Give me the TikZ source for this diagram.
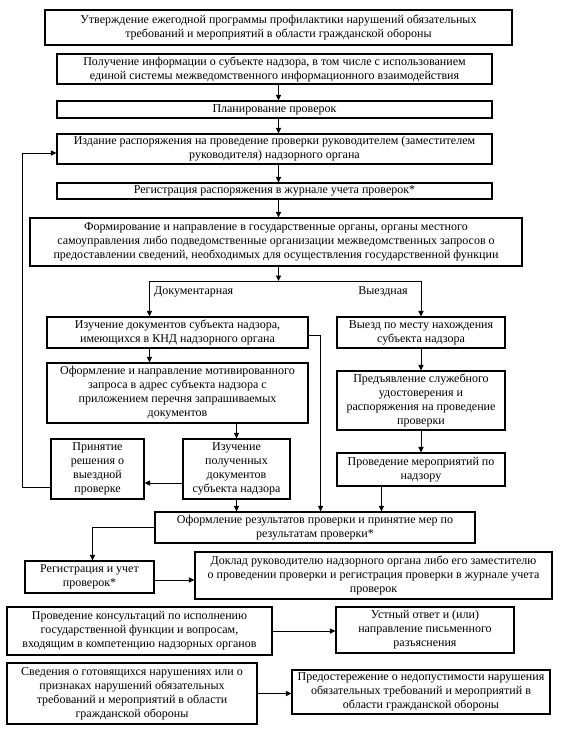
\documentclass[tikz,border=0pt]{standalone}
\usepackage{fontspec}
\setmainfont{Liberation Serif}
\usetikzlibrary{arrows.meta,calc}
\tikzset{
  box/.style={draw, line width=1.1pt, rectangle, align=center, inner sep=1pt,
    font=\fontsize{12}{14}\selectfont},
  arr/.style={line width=1pt, -{Triangle[length=5.5pt,width=5pt]}},
  lbl/.style={font=\fontsize{12}{14}\selectfont, inner sep=0pt}
}
\newcommand\bx[6]{\node[box, minimum width={#4pt-#2pt}, minimum height={#5pt-#3pt}] (#1) at ({(#2+#4)/2},{(#3+#5)/2}) {#6};}
\begin{document}
\begin{tikzpicture}[x=1pt,y=-1pt]
\useasboundingbox (0,0) rectangle (577,729);
\bx{b1}{45}{10}{512}{45}{Утверждение ежегодной программы профилактики нарушений обязательных\\требований и мероприятий в области гражданской обороны}
\bx{b2}{57}{54}{492}{84}{Получение информации о субъекте надзора, в том числе с использованием\\единой системы межведомственного информационного взаимодействия}
\bx{b3}{57}{101}{492}{118}{Планирование проверок}
\bx{b4}{57}{134}{492}{164}{Издание распоряжения на проведение проверки руководителем (заместителем\\руководителя) надзорного органа}
\bx{b5}{57}{183}{492}{199}{Регистрация распоряжения в журнале учета проверок*}
\bx{b6}{30}{218}{522}{266}{Формирование и направление в государственные органы, органы местного\\самоуправления либо подведомственные организации межведомственных запросов о\\предоставлении сведений, необходимых для осуществления государственной функции}
\bx{b7}{47}{317}{308}{348}{Изучение документов субъекта надзора,\\имеющихся в КНД надзорного органа}
\bx{b8}{337}{317}{505}{348}{Выезд по месту нахождения\\субъекта надзора}
\bx{b9}{47}{363}{308}{423}{Оформление и направление мотивированного\\запроса в адрес субъекта надзора с\\приложением перечня запрашиваемых\\документов}
\bx{b10}{337}{371}{505}{430}{Предъявление служебного\\удостоверения и\\распоряжения на проведение\\проверки}
\bx{b11}{51}{439}{144}{499}{Принятие\\решения о\\выездной\\проверке}
\bx{b12}{183}{439}{290}{499}{Изучение\\полученных\\документов\\субъекта надзора}
\bx{b13}{337}{453}{505}{486}{Проведение мероприятий по\\надзору}
\bx{b14}{155}{512}{475}{543}{Оформление результатов проверки и принятие мер по\\результатам проверки*}
\bx{b15}{25}{561}{154}{593}{Регистрация и учет\\проверок*}
\bx{b16}{195}{552}{552}{599}{Доклад руководителю надзорного органа либо его заместителю\\о проведении проверки и регистрация проверки в журнале учета\\проверок}
\bx{b17}{7}{607}{272}{655}{Проведение консультаций по исполнению\\государственной функции и вопросам,\\входящим в компетенцию надзорных органов}
\bx{b18}{336}{607}{514}{653}{Устный ответ и (или)\\направление письменного\\разъяснения}
\bx{b19}{7}{663}{257}{724}{Сведения о готовящихся нарушениях или о\\признаках нарушений обязательных\\требований и мероприятий в области\\гражданской обороны}
\bx{b20}{292}{670}{550}{714}{Предостережение о недопустимости нарушения\\обязательных требований и мероприятий в\\области гражданской обороны}
% labels
\node[lbl, anchor=west] (ldoc) at (154,292) {Документарная};
\node[lbl] (lvyezd) at (383,292) {Выездная};
% connectors
\draw[arr] ([xshift=4pt]b2.south) coordinate (a1) -- (a1 |- b3.north);
\draw[arr] ([xshift=4pt]b3.south) coordinate (a2) -- (a2 |- b4.north);
\draw[arr] ([xshift=4pt]b4.south) coordinate (a3) -- (a3 |- b5.north);
\draw[arr] ([xshift=4pt]b5.south) coordinate (a4) -- (a4 |- b6.north);
\coordinate (split) at (a4 |- 0,281);
\draw[arr] (a4 |- b6.south) -- (split);
\draw[arr] (split) -| ([xshift=103pt]b7.north west);
\draw[arr] (split) -| (b8.north);
\draw[arr] ([xshift=103pt]b7.south west) -- ([xshift=103pt]b9.north west);
\draw[arr] ([yshift=-3pt]b7.east) -- ++(12pt,0) coordinate (t1) -- (t1 |- b14.north);
\draw[arr] (b9.south -| b12.north) -- (b12.north);
\draw[arr] ([yshift=-14pt]b12.west) -- ([yshift=-14pt]b11.east);
\draw[arr] ([yshift=-18pt]b11.west) -- ++(-28pt,0) coordinate (t2) |- ([yshift=-4pt]b4.west);
\draw[arr] (b8.south) -- (b10.north);
\draw[arr] (b10.south) -- (b13.north);
\draw[arr] ([xshift=45pt]b13.south west) coordinate (t3) -- (t3 |- b14.north);
\draw[arr] (b12.south) -- (b12.south |- b14.north);
\draw[arr] (b14.west) -| ([xshift=3pt]b15.north);
\draw[arr] ([yshift=-3pt]b15.east) coordinate (t4) -- (t4 -| b16.west);
\draw[arr] (b17.east) -- (b17.east -| b18.west);
\draw[arr] (b19.east) -- (b19.east -| b20.west);
\end{tikzpicture}
\end{document}
